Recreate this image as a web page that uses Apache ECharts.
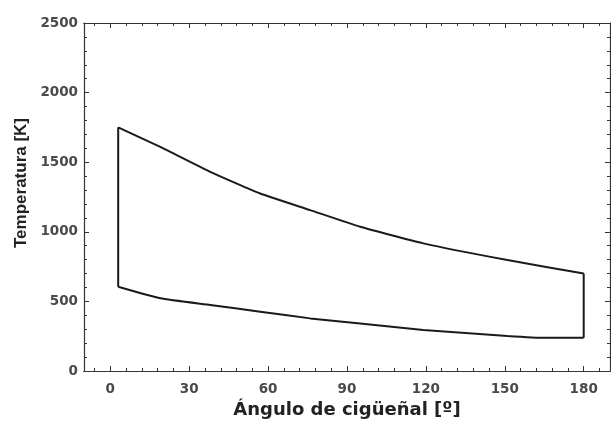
<!DOCTYPE html>
<html>
<head>
<meta charset="utf-8">
<script src="https://cdn.jsdelivr.net/npm/echarts@6/dist/echarts.min.js"></script>
<style>html,body{margin:0;padding:0;background:#fff;}#c{width:611px;height:427px;}</style>
</head>
<body>
<div id="c"></div>
<script>
const upperX = [3, 19, 38, 57, 76, 95, 119, 151, 180];
const upperY = [1750, 1610, 1431, 1275, 1156, 1036, 917, 797, 701];
const lowerX = [3, 19, 38, 57, 76, 95, 119, 151, 165, 180];
const lowerY = [605, 522, 474, 426, 378, 342, 294, 252, 238, 238];
const xTicks = [0, 30, 60, 90, 120, 150, 180];
const xMinorTicks = [-6, 6, 12, 18, 24, 36, 42, 48, 54, 66, 72, 78, 84, 96, 102, 108, 114, 126, 132, 138, 144, 156, 162, 168, 174, 186];
const xTitle = 'Ángulo de cigüeñal [º]';
const yTitle = 'Temperatura [K]';

const upper = upperX.map((x, i) => [x, upperY[i]]);
const lower = lowerX.map((x, i) => [x, lowerY[i]]);
const leftEdge = [lower[0], upper[0]];
const rightEdge = [lower[lower.length - 1], upper[upper.length - 1]];

const lineCol = '#333';
const X_MIN = -10, X_MAX = 190;
const tickFont = { fontFamily: 'DejaVu Sans', fontWeight: 'bold', fontSize: 13.5, color: '#4a4a4a' };

function xAx(pos, major, labels) {
  return {
    type: 'value', min: X_MIN, max: X_MAX, position: pos,
    axisLine: { show: true, onZero: false, lineStyle: { color: lineCol, width: 1.2 } },
    axisTick: { show: true, inside: true, length: major ? 5 : 3, customValues: major ? xTicks : xMinorTicks, lineStyle: { color: lineCol } },
    axisLabel: Object.assign({ show: labels, customValues: xTicks, margin: 11 }, tickFont),
    splitLine: { show: false },
    name: labels ? xTitle : '', nameLocation: 'middle', nameGap: 29,
    nameTextStyle: { fontFamily: 'DejaVu Sans', fontWeight: 'bold', fontSize: 18, color: '#222' }
  };
}
function yAx(pos, labels) {
  return {
    type: 'value', min: 0, max: 2500, interval: 500, position: pos,
    axisLine: { show: true, onZero: false, lineStyle: { color: lineCol, width: 1.2 } },
    axisTick: { show: true, inside: true, length: 5, lineStyle: { color: lineCol } },
    minorTick: { show: true, splitNumber: 5, length: 3, lineStyle: { color: lineCol } },
    axisLabel: Object.assign({ show: labels, margin: 6, formatter: v => String(v) }, tickFont),
    splitLine: { show: false },
    name: labels ? yTitle : '', nameLocation: 'middle', nameGap: 53,
    nameTextStyle: { fontFamily: 'Liberation Sans', fontWeight: 'bold', fontSize: 17, color: '#222', padding: [0, 0, 0, 28] }
  };
}

const chart = echarts.init(document.getElementById('c'), null, { renderer: 'canvas' });
const ser = (d, smooth) => ({ type: 'line', xAxisIndex: 0, yAxisIndex: 0, data: d, symbol: 'none', smooth: smooth ? 0.15 : false, lineStyle: { color: '#1a1a1a', width: 2 }, animation: false });
chart.setOption({
  animation: false,
  backgroundColor: '#fff',
  grid: { left: 84, right: 1, top: 23, bottom: 56 },
  xAxis: [xAx('bottom', true, true), xAx('bottom', false, false), xAx('top', true, false), xAx('top', false, false)],
  yAxis: [yAx('left', true), yAx('right', false)],
  series: [ser(upper, true), ser(lower, true), ser(leftEdge, false), ser(rightEdge, false)]
});
</script>
</body>
</html>
